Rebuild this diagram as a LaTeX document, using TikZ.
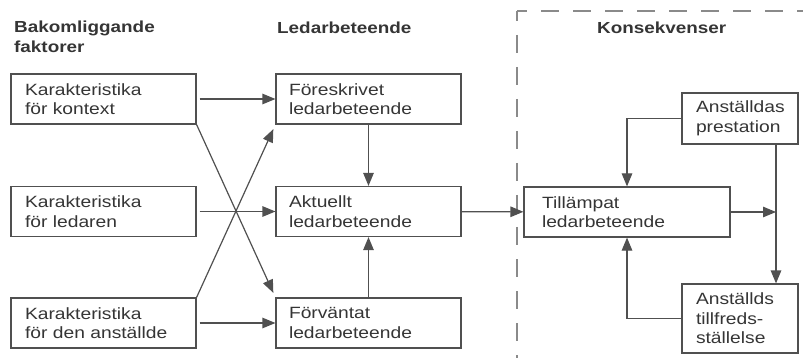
\documentclass[tikz,border=0pt]{standalone}
\usepackage{fontspec}
\setmainfont{Liberation Sans}[FakeStretch=1.18]
\usetikzlibrary{arrows.meta,calc}
\definecolor{txt}{HTML}{353535}
\definecolor{ln}{HTML}{505050}
\definecolor{dsh}{HTML}{8A8A8A}
\tikzset{
  box/.style={draw=ln, line width=1.2pt, rectangle, align=left, text=txt,
    inner xsep=14pt, inner ysep=0pt, font=\fontsize{16.3}{19.5}\selectfont, anchor=center},
  head/.style={text=txt, font=\bfseries\fontsize{16}{19.5}\selectfont, align=left, anchor=base west, inner sep=0pt},
  arr/.style={draw=ln, line width=1.2pt, -{Triangle[length=13pt,width=10.5pt]}},
}
\begin{document}
\begin{tikzpicture}[x=1pt,y=-1pt]
\useasboundingbox[fill=white] (0,0) rectangle (803,358);
% dashed frame
\draw[dsh, line width=1.3pt, dash pattern=on 18pt off 14pt, dash phase=8pt] (517,11) -- (517,362);
\draw[dsh, line width=1.3pt, dash pattern=on 18pt off 14pt, dash phase=8pt] (517,11) -- (808,11);
% headers
\node[head] (h1) at (14,52.5) {Bakomliggande\\faktorer};
\node[head] (h2) at (277,33.3) {Ledarbeteende};
\node[head] (h3) at (597,33.3) {Konsekvenser};
% left boxes
\node[box, minimum width=185pt, minimum height=50pt, text width=157pt] (k1) at (103.5,99) {Karakteristika\\för kontext};
\node[box, minimum width=185pt, minimum height=50pt, text width=157pt] (k2) at (103.5,211.5) {Karakteristika\\för ledaren};
\node[box, minimum width=185pt, minimum height=50pt, text width=157pt] (k3) at (103.5,323) {Karakteristika\\för den anställde};
% middle boxes
\node[box, inner xsep=13pt, minimum width=185pt, minimum height=50pt, text width=159pt] (f) at (368.5,99) {Föreskrivet\\ledarbeteende};
\node[box, inner xsep=13pt, minimum width=185pt, minimum height=50pt, text width=159pt] (a) at (368.5,211.5) {Aktuellt\\ledarbeteende};
\node[box, inner xsep=13pt, minimum width=185pt, minimum height=50pt, text width=159pt] (v) at (368.5,323) {Förväntat\\ledarbeteende};
% right boxes
\node[box, inner xsep=18pt, minimum width=206pt, minimum height=50pt, text width=170pt] (t) at (627,212) {Tillämpat\\ledarbeteende};
\node[box, inner xsep=14pt, minimum width=116pt, minimum height=51pt, text width=88pt] (p) at (740,118.5) {Anställdas\\prestation};
\node[box, inner xsep=14pt, minimum width=116pt, minimum height=69pt, text width=88pt] (s) at (740,318.5) {Anställds\\tillfreds-\\ställelse};
\coordinate (vx) at (776,0);
% connectors
\draw[arr, shorten <=3pt] (k1) -- (f);
\draw[arr, shorten <=3pt] (k2) -- (a);
\draw[arr, shorten <=3pt] (k3) -- (v);
\draw[arr, shorten >=5pt] (k1.south east) -- (v.north west);
\draw[arr, shorten >=5pt] (k3.north east) -- (f.south west);
\draw[arr] (f) -- (a);
\draw[arr] (v) -- (a);
\draw[arr] (a) -- (t);
\draw[arr] (p.west) -| (t.north);
\draw[arr] (s.west) -| (t.south);
\draw[arr] (p.south -| vx) -- (s.north -| vx);
\draw[arr] (t.east) -- (t.east -| vx);
\end{tikzpicture}
\end{document}
